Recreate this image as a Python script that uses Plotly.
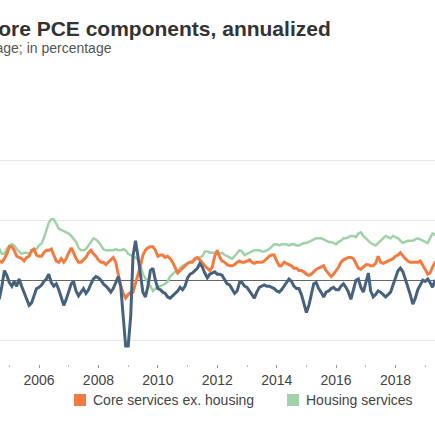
import pandas as pd
import plotly.graph_objects as go

# monthly, annualized, in percent; first value is Aug 2004
start_month = "2004-08-01"

core_goods = [
    -1.7, -1.5, -0.5, 0.8, 0.4, -0.2, -0.5, -0.1, -0.5, 0.1, -0.5, -1.0, -1.6, -2.1, -1.9, -1.3, -0.7,
    -0.6, -0.4, -0.1, 0.1, 0.5, -0.2, -0.5, -0.3, -0.8, -1.5, -2.1, -1.6,
    -0.9, -0.3, -0.1, -0.9, -1.3, -1.0, -0.7, -1.1, -0.8, -0.3, 0.1, 0.3,
    0.2, 0.0, -0.3, -0.5, -0.7, -1.0, -0.7, -0.2, 0.3, -0.5, -3.4, -5.5,
    -5.5, -3.0, 2.0, 3.3, 2.0, 0.4, -1.0, -1.4, -0.5, 0.8, 1.0, 0.0,
    -0.7, -0.8, -1.0, -1.1, -1.4, -1.5, -1.3, -1.1, -0.9, -0.6, -0.8, -0.5,
    0.2, 0.5, 0.6, 0.8, 1.0, 1.4, 1.1, 0.6, 0.2, 0.5, 0.6, 0.7,
    0.5, 0.5, 0.4, 0.0, -0.3, -0.4, -0.7, -1.1, -0.9, -0.2, -0.2, -0.5,
    -0.6, -0.9, -1.2, -1.5, -1.0, -0.6, -0.5, -0.4, -0.5, -0.5, -0.6, -0.7,
    -0.9, -1.0, -0.8, -0.5, -0.2, 0.1, -0.1, -0.5, -0.7, -0.7, -1.2, -2.0,
    -2.7, -2.1, -1.1, -0.3, -0.2, -0.7, -1.0, -1.4, -1.0, -0.9, -0.7, -0.6,
    -0.8, -0.8, -0.5, -0.3, -0.6, -1.0, -1.6, -0.9, 0.0, 0.1, -0.6, -1.0,
    -0.2, 0.6, -0.9, -1.4, -1.2, -0.9, -1.0, -1.2, -1.4, -1.2, -1.0, -0.4,
    0.3, 0.8, 1.0, 0.7, 0.1, -0.5, -1.2, -2.0, -1.5, -0.8, -0.4, 0.0,
    -0.1, 0.1, -0.2, -0.6, 0.0, -0.3,
]

core_services_ex_housing = [
    1.8, 1.6, 1.5, 1.8, 2.2, 2.8, 2.8, 2.5, 2.0, 1.9, 1.8, 1.6, 1.9, 2.0, 2.5, 2.6, 2.1,
    2.0, 2.0, 2.3, 2.5, 2.5, 2.6, 2.1, 1.6, 1.5, 1.8, 1.5, 1.8,
    2.3, 2.7, 2.3, 1.8, 1.5, 1.5, 1.7, 1.9, 2.3, 2.5, 2.2, 2.0,
    1.7, 1.5, 1.5, 1.3, 1.5, 1.7, 1.9, 1.5, 0.5, -0.5, -1.1, -1.5,
    -1.2, -1.0, -1.0, -0.3, 0.5, 1.2, 2.1, 2.5, 2.7, 2.8, 2.8, 2.5,
    2.0, 2.1, 2.1, 1.9, 2.0, 1.8, 1.5, 1.0, 0.6, 0.8, 1.0, 1.2,
    1.4, 1.5, 1.5, 1.8, 1.9, 1.7, 1.4, 1.2, 1.0, 0.8, 1.1, 2.0,
    2.5, 1.9, 1.6, 1.5, 1.3, 1.2, 1.2, 1.3, 1.5, 1.6, 1.5, 1.5,
    1.6, 1.7, 1.5, 1.4, 1.5, 1.5, 1.5, 1.6, 1.8, 2.0, 2.1, 2.1,
    1.6, 1.2, 1.2, 1.5, 1.4, 1.3, 1.2, 1.0, 1.0, 0.8, 0.8, 0.7,
    0.5, 0.4, 0.5, 0.7, 0.9, 1.0, 1.1, 1.2, 0.8, 0.5, 0.3, 0.5,
    0.8, 1.1, 1.5, 1.7, 1.8, 1.9, 1.9, 1.8, 1.4, 1.0, 0.9, 1.1,
    1.3, 1.3, 1.2, 1.2, 1.4, 2.0, 1.5, 1.4, 1.5, 1.6, 1.7, 1.8,
    2.0, 2.1, 2.3, 2.0, 1.8, 1.6, 1.5, 1.5, 1.5, 1.5, 1.6, 1.3,
    0.9, 0.5, 0.6, 1.1, 1.5, 1.8,
]

housing_services = [
    2.8, 2.6, 2.2, 2.2, 2.6, 2.9, 3.0, 2.9, 2.6, 2.4, 2.2, 2.3, 2.3, 2.2, 2.3, 2.5, 2.6,
    2.9, 3.1, 3.5, 4.2, 4.8, 5.1, 5.1, 4.7, 4.3, 4.2, 4.1, 4.0,
    3.9, 3.7, 3.5, 3.2, 2.7, 2.5, 2.5, 2.6, 2.9, 3.2, 3.5, 3.4,
    3.2, 2.9, 2.6, 2.5, 2.5, 2.5, 2.5, 2.6, 2.5, 2.5, 2.6, 2.5,
    2.2, 2.1, 2.0, 1.9, 1.7, 1.3, 0.5, 0.1, -0.2, -0.5, -0.9, -0.7,
    -0.6, -0.5, -0.4, -0.3, -0.1, 0.3, 0.5, 0.7, 0.8, 1.0, 1.2, 1.3,
    1.4, 1.5, 1.6, 1.7, 1.8, 1.9, 2.0, 2.4, 2.4, 2.3, 2.3, 2.3,
    2.2, 2.2, 2.3, 2.1, 2.0, 1.9, 1.8, 2.0, 2.3, 2.5, 2.4, 2.1,
    2.2, 2.3, 2.4, 2.5, 2.5, 2.5, 2.4, 2.4, 2.5, 2.6, 2.8, 3.0,
    3.0, 2.9, 3.0, 3.0, 3.0, 2.9, 3.0, 3.0, 2.9, 2.9, 3.0, 3.1,
    3.1, 3.2, 3.3, 3.4, 3.5, 3.5, 3.5, 3.4, 3.3, 3.2, 3.2, 3.1,
    3.0, 3.2, 3.3, 3.5, 3.5, 3.6, 3.7, 3.7, 3.6, 3.9, 4.0, 3.7,
    3.5, 3.3, 3.1, 3.0, 2.9, 3.1, 3.3, 3.5, 3.7, 3.6, 3.5, 3.7,
    3.6, 3.5, 3.3, 3.1, 3.2, 3.3, 3.3, 3.3, 3.4, 3.5, 3.4, 3.3,
    3.2, 3.1, 3.5, 3.9, 3.8, 3.9,
]

months = pd.date_range(start_month, periods=len(core_goods), freq="MS")

GOODS = "#48627e"
SERV = "#f47b40"
HOUS = "#9fd2a8"
FONT = "Arial, Liberation Sans, sans-serif"

fig = go.Figure()
fig.add_trace(go.Scatter(x=months, y=housing_services, mode="lines", name="Housing services",
                         line=dict(color=HOUS, width=2.5)))
fig.add_trace(go.Scatter(x=months, y=core_services_ex_housing, mode="lines", name="Core services ex. housing",
                         line=dict(color=SERV, width=3)))
fig.add_trace(go.Scatter(x=months, y=core_goods, mode="lines", name="Core goods",
                         line=dict(color=GOODS, width=3)))

W, H = 435, 435
top, bottom = 100, 364
ph = bottom - top


def py(y):
    # pixel row -> paper y
    return (bottom - y) / ph


fig.update_layout(
    width=W, height=H,
    margin=dict(l=0, r=0, t=top, b=H - bottom),
    paper_bgcolor="white", plot_bgcolor="white",
    showlegend=False,
    font=dict(family=FONT, color="#444"),
    xaxis=dict(
        range=["2004-09-08", "2019-05-01"],
        showgrid=False, zeroline=False, showline=False,
        tick0="2006-01-01", dtick="M24", tickformat="%Y",
        ticks="outside", ticklen=3, tickcolor="#999", tickwidth=1,
        tickfont=dict(size=14, color="#444"),
        minor=dict(tick0="2005-01-01", dtick="M12", ticks="outside", ticklen=2, tickcolor="#bbb"),
    ),
    yaxis=dict(
        range=[-7, 15.05], tick0=0, dtick=5,
        showticklabels=False, ticks="",
        gridcolor="#e6e6e6", gridwidth=1,
        zeroline=True, zerolinecolor="#666", zerolinewidth=1,
    ),
    annotations=[
        dict(text="<b>Core PCE components, annualized</b>", xref="paper", yref="paper",
             x=333 / W, y=py(28.6), xanchor="right", yanchor="middle", showarrow=False,
             font=dict(size=21, color="#333")),
        dict(text="3-month moving average; in percentage", xref="paper", yref="paper",
             x=114 / W, y=py(48.4), xanchor="right", yanchor="middle", showarrow=False,
             font=dict(size=14, color="#555")),
        dict(text="Core services ex. housing", xref="paper", yref="paper",
             x=91 / W, y=py(400), xanchor="left", yanchor="middle", showarrow=False,
             font=dict(size=14, color="#444")),
        dict(text="Housing services", xref="paper", yref="paper",
             x=304 / W, y=py(400), xanchor="left", yanchor="middle", showarrow=False,
             font=dict(size=14, color="#444")),
    ],
    shapes=[
        dict(type="rect", xref="paper", yref="paper", x0=74 / W, x1=86 / W, y0=py(406), y1=py(394),
             fillcolor=SERV, line=dict(width=0)),
        dict(type="rect", xref="paper", yref="paper", x0=287 / W, x1=299 / W, y0=py(406), y1=py(394),
             fillcolor=HOUS, line=dict(width=0)),
    ],
)

# the page body has a default 8px margin; drop it so the figure fills the window
fig.write_html("out.html", config={"displayModeBar": False},
               post_script="document.body.style.margin='0';")
